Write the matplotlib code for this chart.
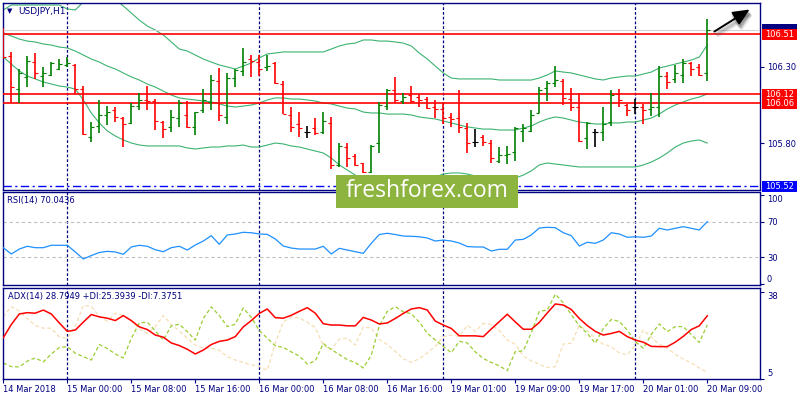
import matplotlib
matplotlib.use("Agg")
import matplotlib.pyplot as plt
from matplotlib.patches import Rectangle, FancyArrowPatch
import numpy as np

# ---------------- data (USDJPY H1) ----------------
x_labels = ["14 Mar 2018", "15 Mar 00:00", "15 Mar 08:00", "15 Mar 16:00",
            "16 Mar 00:00", "16 Mar 08:00", "16 Mar 16:00", "19 Mar 01:00",
            "19 Mar 09:00", "19 Mar 17:00", "20 Mar 01:00", "20 Mar 09:00"]
day_separators = [8, 32, 55, 79]

opens = [106.520, 106.370, 106.152, 106.235, 106.333, 106.239, 106.243, 106.283, 106.309, 106.311,
         106.152, 105.843, 105.913, 105.985, 106.017, 105.963, 105.930, 106.043, 106.083, 106.078,
         105.941, 105.904, 105.963, 105.985, 105.909, 106.017, 106.072, 106.207, 105.970, 106.224,
         106.274, 106.348, 106.333, 106.300, 106.322, 106.187, 105.985, 105.926, 105.876, 105.898,
         105.874, 105.935, 105.657, 105.778, 105.717, 105.670, 105.611, 105.800, 106.043, 106.148,
         106.078, 106.115, 106.100, 106.089, 106.039, 106.024, 105.970, 105.963, 105.898, 105.811,
         105.843, 105.800, 105.687, 105.724, 105.741, 105.880, 105.883, 106.000, 106.159, 106.191,
         106.207, 106.087, 106.039, 105.833, 105.876, 105.876, 105.941, 106.120, 106.050, 106.035,
         106.039, 106.024, 106.035, 106.239, 106.217, 106.246, 106.322, 106.300, 106.261]
highs = [106.550, 106.398, 106.283, 106.370, 106.391, 106.300, 106.333, 106.348, 106.365, 106.317,
         106.174, 105.941, 106.083, 106.043, 106.035, 105.970, 106.061, 106.130, 106.174, 106.087,
         105.948, 106.017, 106.083, 106.078, 106.002, 106.152, 106.246, 106.293, 106.261, 106.283,
         106.420, 106.376, 106.376, 106.376, 106.333, 106.209, 106.039, 106.002, 105.913, 105.963,
         106.002, 105.974, 105.800, 105.800, 105.730, 105.674, 105.789, 106.072, 106.152, 106.235,
         106.130, 106.174, 106.122, 106.104, 106.083, 106.061, 106.000, 106.148, 105.930, 105.893,
         105.854, 105.822, 105.778, 105.785, 105.909, 105.924, 106.017, 106.165, 106.207, 106.304,
         106.220, 106.159, 106.126, 105.937, 105.891, 106.035, 106.148, 106.152, 106.057, 106.087,
         106.054, 106.130, 106.304, 106.267, 106.311, 106.348, 106.333, 106.315, 106.609]
lows = [106.348, 106.061, 106.061, 106.170, 106.217, 106.165, 106.239, 106.278, 106.300, 106.120,
        105.854, 105.811, 105.865, 105.920, 105.941, 105.778, 105.924, 106.017, 106.017, 105.887,
        105.833, 105.872, 105.909, 105.902, 105.854, 106.000, 106.017, 105.948, 105.926, 106.170,
        106.239, 106.235, 106.239, 106.272, 106.185, 105.989, 105.876, 105.843, 105.837, 105.854,
        105.861, 105.630, 105.648, 105.648, 105.654, 105.604, 105.609, 105.739, 106.017, 106.061,
        106.054, 106.061, 106.039, 106.022, 105.963, 105.926, 105.909, 105.870, 105.739, 105.778,
        105.785, 105.674, 105.670, 105.665, 105.687, 105.811, 105.876, 105.996, 106.078, 106.170,
        106.050, 106.013, 105.811, 105.763, 105.778, 105.817, 105.913, 106.039, 105.980, 105.989,
        105.924, 105.978, 105.970, 106.152, 106.191, 106.191, 106.241, 106.239, 106.207]
closes = [106.365, 106.165, 106.261, 106.337, 106.261, 106.261, 106.322, 106.317, 106.322, 106.152,
          105.859, 105.909, 105.985, 106.007, 105.970, 105.926, 106.043, 106.083, 106.078, 105.946,
          105.891, 105.970, 106.061, 105.909, 106.002, 106.083, 106.213, 105.985, 106.224, 106.278,
          106.328, 106.339, 106.283, 106.307, 106.191, 105.991, 105.909, 105.898, 105.876, 105.870,
          105.943, 105.659, 105.783, 105.702, 105.659, 105.611, 105.785, 106.050, 106.148, 106.083,
          106.104, 106.078, 106.083, 106.033, 106.024, 105.963, 105.957, 105.909, 105.800, 105.811,
          105.811, 105.702, 105.724, 105.728, 105.898, 105.902, 105.985, 106.148, 106.191, 106.213,
          106.093, 106.039, 105.817, 105.930, 105.876, 105.926, 106.115, 106.083, 106.017, 106.035,
          106.017, 106.039, 106.239, 106.202, 106.261, 106.322, 106.283, 106.246, 106.539]

bb_upper = [106.670, 106.702, 106.702, 106.702, 106.702, 106.702, 106.702, 106.702, 106.676, 106.670,
            106.722, 106.767, 106.800, 106.767, 106.735, 106.696, 106.650, 106.604, 106.565, 106.539,
            106.507, 106.461, 106.415, 106.402, 106.376, 106.350, 106.330, 106.311, 106.298, 106.285,
            106.304, 106.324, 106.357, 106.383, 106.389, 106.396, 106.396, 106.396, 106.396, 106.396,
            106.396, 106.415, 106.435, 106.448, 106.454, 106.474, 106.474, 106.467, 106.467, 106.461,
            106.454, 106.435, 106.389, 106.350, 106.304, 106.259, 106.226, 106.220, 106.220, 106.220,
            106.220, 106.220, 106.213, 106.213, 106.213, 106.213, 106.213, 106.226, 106.246, 106.272,
            106.265, 106.259, 106.246, 106.233, 106.220, 106.213, 106.226, 106.233, 106.239, 106.239,
            106.252, 106.265, 106.291, 106.304, 106.317, 106.330, 106.343, 106.363, 106.441]
bb_middle = [106.520, 106.500, 106.480, 106.467, 106.461, 106.448, 106.441, 106.428, 106.422, 106.402,
             106.376, 106.350, 106.330, 106.304, 106.285, 106.259, 106.233, 106.213, 106.187, 106.167,
             106.141, 106.115, 106.096, 106.089, 106.083, 106.076, 106.070, 106.057, 106.043, 106.037,
             106.043, 106.050, 106.063, 106.083, 106.096, 106.096, 106.089, 106.089, 106.083, 106.076,
             106.063, 106.057, 106.043, 106.030, 106.024, 106.004, 105.998, 105.998, 105.991, 105.991,
             105.991, 105.985, 105.972, 105.965, 105.959, 105.946, 105.933, 105.920, 105.907, 105.900,
             105.893, 105.893, 105.887, 105.887, 105.887, 105.900, 105.913, 105.939, 105.959, 105.972,
             105.965, 105.952, 105.939, 105.933, 105.926, 105.926, 105.933, 105.933, 105.939, 105.939,
             105.952, 105.965, 105.991, 106.024, 106.050, 106.070, 106.089, 106.102, 106.122]
bb_lower = [106.363, 106.317, 106.272, 106.239, 106.220, 106.200, 106.187, 106.174, 106.167, 106.154,
            106.083, 105.998, 105.933, 105.881, 105.848, 105.822, 105.802, 105.789, 105.783, 105.783,
            105.783, 105.783, 105.783, 105.770, 105.763, 105.770, 105.776, 105.776, 105.783, 105.783,
            105.789, 105.776, 105.776, 105.789, 105.802, 105.796, 105.783, 105.776, 105.763, 105.750,
            105.737, 105.704, 105.659, 105.626, 105.593, 105.561, 105.528, 105.502, 105.483, 105.476,
            105.483, 105.496, 105.522, 105.554, 105.580, 105.600, 105.607, 105.607, 105.600, 105.587,
            105.574, 105.561, 105.554, 105.561, 105.574, 105.593, 105.620, 105.659, 105.672, 105.665,
            105.659, 105.652, 105.646, 105.646, 105.646, 105.646, 105.646, 105.646, 105.646, 105.646,
            105.659, 105.678, 105.704, 105.737, 105.776, 105.802, 105.815, 105.822, 105.802]

rsi = [40.8, 33.7, 39.3, 42.4, 40.8, 40.8, 43.5, 43.5, 43.5, 36.0,
       28.1, 32.0, 35.4, 36.7, 36.0, 33.4, 41.6, 43.5, 42.4, 38.5,
       36.3, 40.8, 42.4, 38.2, 43.8, 48.3, 54.3, 44.6, 55.1, 56.2,
       58.1, 57.6, 56.2, 55.8, 50.6, 42.7, 40.4, 39.3, 39.3, 39.3,
       42.4, 33.7, 40.1, 38.2, 36.3, 34.5, 45.7, 55.6, 57.0, 55.6,
       53.9, 53.6, 53.1, 51.7, 48.3, 49.4, 48.3, 46.1, 42.1, 41.6,
       41.6, 37.1, 39.0, 39.0, 49.4, 50.2, 55.1, 62.9, 63.7, 63.3,
       57.6, 54.3, 42.7, 46.9, 45.7, 49.4, 57.6, 56.2, 52.5, 53.1,
       52.5, 53.9, 62.6, 60.7, 62.6, 64.4, 62.6, 60.7, 70.0436]

adx = [20.5, 25.5, 29.5, 30.0, 29.8, 31.0, 29.5, 26.1, 22.9, 23.4,
       26.4, 29.3, 28.4, 27.9, 27.0, 28.9, 27.0, 24.6, 23.6, 21.5,
       20.7, 18.5, 17.5, 16.1, 14.3, 15.8, 17.9, 19.1, 19.6, 20.9,
       24.6, 27.0, 29.7, 31.4, 28.1, 27.9, 29.0, 30.5, 31.9, 29.8,
       25.8, 25.3, 25.3, 25.0, 25.0, 28.2, 27.2, 25.7, 26.1, 27.8,
       29.7, 31.4, 31.9, 31.0, 26.8, 25.3, 24.0, 21.2, 21.2, 21.2,
       20.9, 23.8, 26.6, 29.4, 26.5, 23.7, 23.7, 26.3, 29.9, 33.3,
       32.9, 31.2, 27.8, 25.1, 22.9, 21.5, 22.1, 22.9, 20.9, 19.6,
       18.8, 17.2, 17.1, 17.1, 18.8, 21.0, 23.6, 25.0, 28.7949]
plus_di = [10.9, 9.5, 9.4, 11.6, 12.8, 11.3, 14.3, 16.8, 17.1, 14.6,
           13.3, 12.0, 17.9, 16.4, 14.3, 12.8, 20.2, 26.1, 26.4, 23.1,
           19.6, 25.0, 25.6, 22.8, 19.6, 27.8, 32.2, 28.9, 24.7, 25.6,
           31.8, 28.2, 23.2, 20.3, 17.4, 16.8, 15.1, 13.5, 10.5, 11.7,
           18.3, 16.0, 14.1, 12.2, 11.0, 9.0, 13.8, 25.0, 30.5, 32.3,
           30.3, 29.6, 26.4, 22.2, 19.6, 17.2, 14.8, 19.1, 18.5, 15.1,
           12.6, 11.1, 9.8, 8.0, 15.2, 15.5, 22.3, 30.5, 31.0, 37.0,
           33.7, 29.3, 25.0, 22.1, 18.4, 24.0, 27.4, 26.7, 23.4, 19.0,
           16.5, 21.7, 25.7, 22.8, 24.7, 24.7, 21.7, 18.7, 25.3939]
minus_di = [28.4, 32.3, 30.6, 27.7, 25.2, 24.1, 24.1, 20.8, 20.3, 24.8,
            32.7, 32.5, 28.5, 26.8, 29.8, 28.9, 26.8, 23.8, 22.1, 24.7,
            28.9, 25.5, 23.1, 20.3, 17.7, 16.5, 16.5, 15.7, 13.3, 12.0,
            11.1, 10.2, 9.6, 8.1, 18.4, 26.5, 28.4, 28.0, 26.4, 24.3,
            17.6, 15.9, 20.0, 20.3, 17.7, 24.6, 24.1, 19.8, 17.9, 15.3,
            12.5, 11.1, 12.5, 14.7, 17.2, 20.9, 21.5, 21.0, 25.2, 22.9,
            25.9, 25.5, 23.2, 19.6, 18.0, 13.5, 11.7, 10.4, 9.2, 9.5,
            18.1, 18.4, 25.1, 23.1, 20.2, 18.0, 17.1, 14.7, 14.0, 17.7,
            23.4, 20.7, 18.0, 16.5, 14.2, 12.4, 10.9, 9.0, 7.3751]

level_prices = [106.51, 106.12, 106.06]
support_price = 105.52
bid_price = 106.539

# ---------------- layout ----------------
W, H = 800, 400
fig = plt.figure(figsize=(8, 4), dpi=100)
fig.patch.set_facecolor("white")
navy = "#000080"
FS = 6


def fx(px):
    return px / W


def fy(py):
    return 1 - py / H


left_px, right_px = 2.5, 760
ax1 = fig.add_axes([fx(left_px), fy(189.5), fx(right_px) - fx(left_px), (189.5 - 2.5) / H])
ax2 = fig.add_axes([fx(left_px), fy(285), fx(right_px) - fx(left_px), (285 - 192.5) / H])
ax3 = fig.add_axes([fx(left_px), fy(378.5), fx(right_px) - fx(left_px), (378.5 - 287.7) / H])

n = len(closes)
x = np.arange(n)
xlim = (-0.1, 94.59)

for ax in (ax1, ax2, ax3):
    ax.set_xlim(*xlim)
    ax.set_facecolor("white")
    for s in ax.spines.values():
        s.set_color(navy)
        s.set_linewidth(1.0)
    ax.yaxis.tick_right()
    ax.tick_params(axis="y", direction="out", length=3, width=0.8, pad=2,
                   colors=navy, labelsize=FS)
    for d in day_separators:
        ax.axvline(d, color=navy, lw=0.9, ls=(0, (2.2, 1.6)), zorder=1)
ax1.set_xticks([])
ax2.set_xticks([])

# ---------------- main price panel ----------------
ax1.set_ylim(105.499, 106.7185)
ax1.plot(x, bb_upper, color="#3cb371", lw=0.8, zorder=2)
ax1.plot(x, bb_middle, color="#3cb371", lw=0.8, zorder=2)
ax1.plot(x, bb_lower, color="#3cb371", lw=0.8, zorder=2)

o = np.array(opens); h = np.array(highs); l = np.array(lows); c = np.array(closes)
cols = ["#008000" if cc > oo else ("#ff0000" if cc < oo else "#000000") for oo, cc in zip(o, c)]
ax1.vlines(x, l, h, colors=cols, lw=1.2, zorder=4, capstyle="butt")
ax1.hlines(o, x - 0.4, x, colors=cols, lw=0.8, zorder=4)
ax1.hlines(c, x, x + 0.4, colors=cols, lw=0.8, zorder=4)

ax1.axhline(bid_price, color="#d3d3d3", lw=0.8, zorder=3)
for p in level_prices:
    ax1.axhline(p, color="#ff0000", lw=1.2, zorder=3)
ax1.axhline(support_price, color="#0000ff", lw=1.0, ls=(0, (6, 2.5, 1.5, 2.5)), zorder=3)

ax1.set_yticks([106.30, 105.80])
ax1.set_yticklabels(["106.30", "105.80"])

fig.text(fx(7), fy(11), "\u25BC", color=navy, fontsize=5, ha="left", va="center")
fig.text(fx(18), fy(11), "USDJPY,H1", color=navy, fontsize=6.5, ha="left", va="center")

# ---------------- RSI panel ----------------
ax2.set_ylim(-1.1, 102.8)
for lv in (70, 30):
    ax2.axhline(lv, color="#c0c0c0", lw=0.8, ls=(0, (3, 2.5)), zorder=1)
ax2.plot(x, rsi, color="#1e90ff", lw=0.9, zorder=3)
ax2.set_yticks([100, 70, 30, 0])
ax2.set_yticklabels(["100", "70", "30", "0"])
tl = ax2.get_yticklabels()
tl[0].set_va("top")
tl[3].set_va("bottom")
fig.text(fx(7), fy(201), "RSI(14) 70.0436", color=navy, fontsize=FS, ha="left", va="center")

# ---------------- ADX panel ----------------
ax3.set_ylim(5.0, 39.48)
ax3.plot(x, minus_di, color="#f5deb3", lw=0.9, ls=(0, (3, 2)), zorder=2)
ax3.plot(x, plus_di, color="#9acd32", lw=0.9, ls=(0, (3, 2)), zorder=2)
ax3.plot(x, adx, color="#ff0000", lw=1.1, zorder=3)
ax3.set_yticks([38, 5])
ax3.set_yticklabels(["38", "5"])
tl = ax3.get_yticklabels()
tl[0].set_va("top")
tl[1].set_va("bottom")
fig.text(fx(8), fy(296), "ADX(14) 28.7949 +DI:25.3939 -DI:7.3751", color=navy,
         fontsize=FS, ha="left", va="center")

ax3.set_xticks(np.arange(0, n, 8))
ax3.set_xticklabels(x_labels)
ax3.tick_params(axis="x", direction="out", length=3, width=0.8, pad=1.8,
                colors=navy, labelsize=FS)
for lbl in ax3.get_xticklabels():
    lbl.set_ha("left")

# ---------------- price boxes on the right axis ----------------
def price_box(price, fc, text=None, hgt=11.5):
    ydisp = ax1.transData.transform((0, price))[1]
    ypx = H - ydisp
    fig.add_artist(Rectangle((fx(762), fy(ypx + hgt / 2)), 35 / W, hgt / H,
                             transform=fig.transFigure, fc=fc, ec="none", zorder=20))
    if text:
        fig.text(fx(779.5), fy(ypx), text, color="white", fontsize=FS, ha="center",
                 va="center", zorder=21)

# bid box is almost fully covered by the 106.51 label in the reference
price_box(bid_price, "#000080")
for p in level_prices:
    price_box(p, "#ff0000", f"{p:.2f}")
price_box(support_price, "#0000ff", f"{support_price:.2f}")

# ---------------- watermark ----------------
fig.add_artist(Rectangle((fx(336), fy(208)), 182 / W, 33 / H, transform=fig.transFigure,
                         fc="#8db43e", ec="none", zorder=30))
fig.text(fx(427), fy(191), "freshforex.com", color="white", fontsize=16.5,
         family=["Open Sans", "DejaVu Sans"], ha="center", va="center", zorder=31)

# ---------------- arrow ----------------
for k, (dx, dy, a) in enumerate([(4, 4, 0.12), (3, 3, 0.18), (2, 2, 0.22)]):
    shadow = FancyArrowPatch((fx(712 + dx), fy(33 + dy)), (fx(752 + dx), fy(8 + dy)),
                             transform=fig.transFigure,
                             arrowstyle="-|>,head_length=1.0,head_width=0.45",
                             mutation_scale=10, color="#606060", lw=2.4, alpha=a,
                             zorder=24)
    fig.add_artist(shadow)
arrow = FancyArrowPatch((fx(712), fy(33)), (fx(752), fy(8)), transform=fig.transFigure,
                        arrowstyle="-|>,head_length=1.0,head_width=0.45", mutation_scale=10,
                        color="black", lw=1.4, zorder=25)
fig.add_artist(arrow)

fig.savefig("out.png", dpi=100, facecolor="white")
